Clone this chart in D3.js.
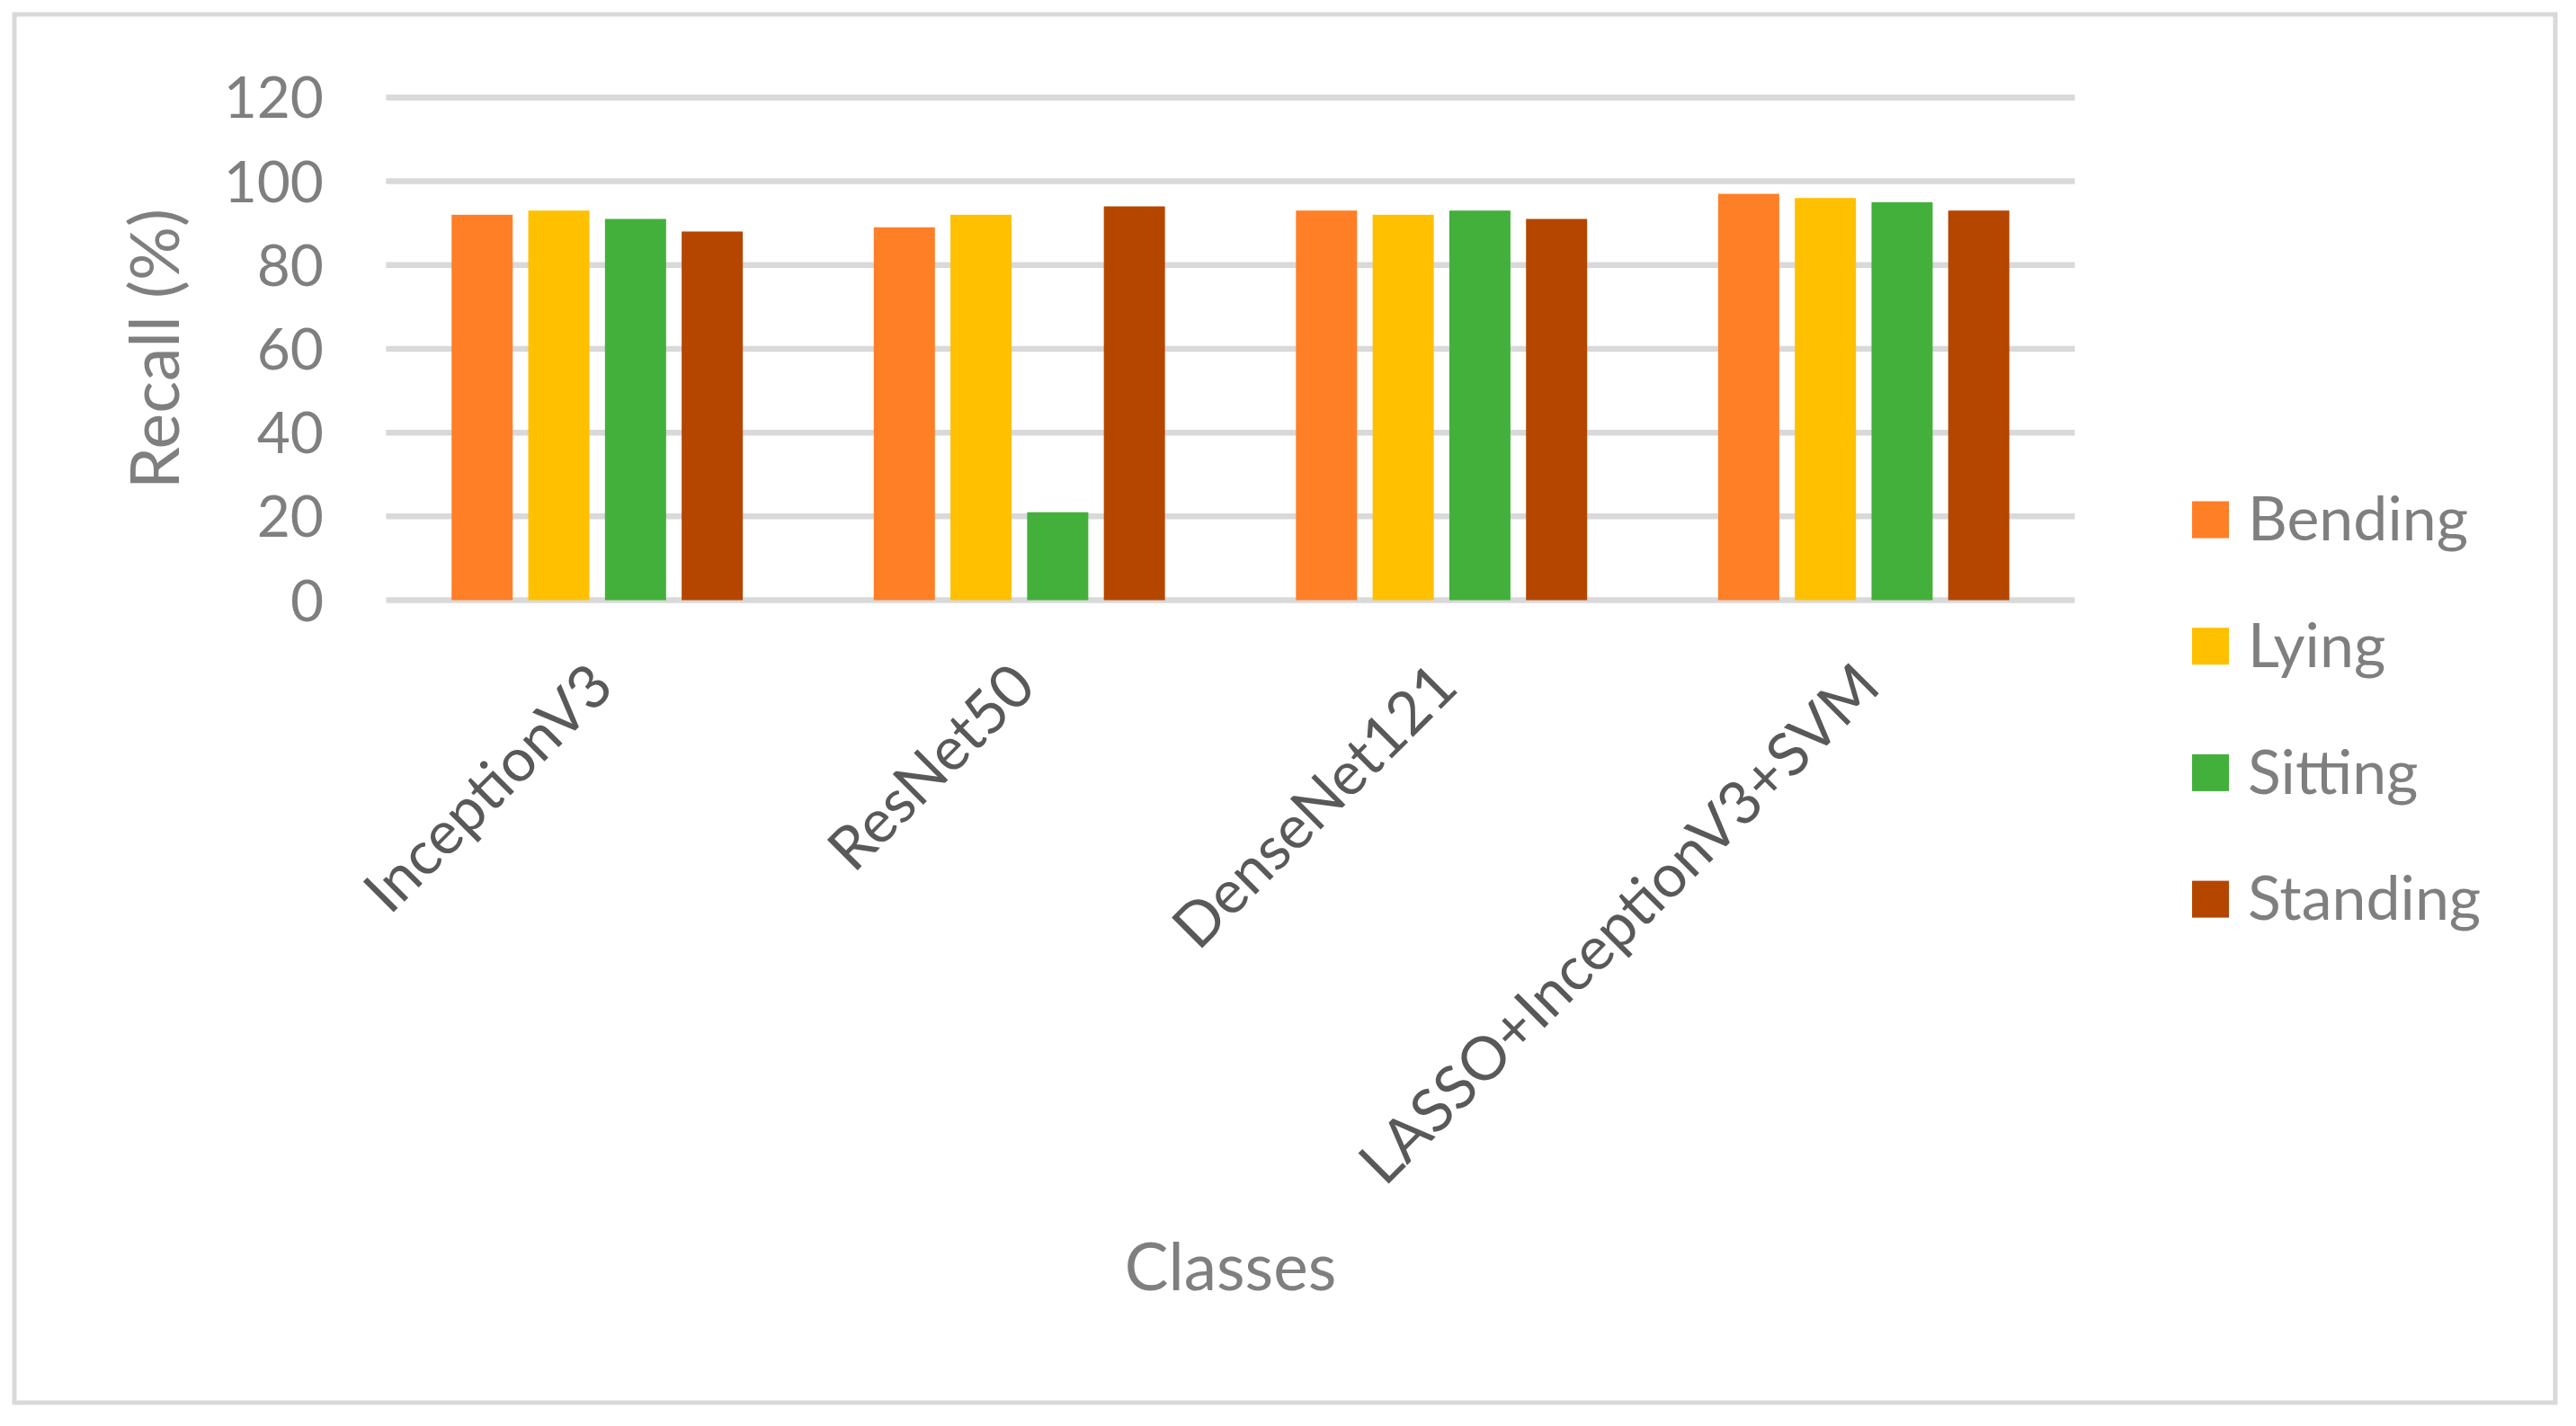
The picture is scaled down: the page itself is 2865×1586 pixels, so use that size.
<!DOCTYPE html>
<html>
<head>
<meta charset="utf-8">
<script src="https://cdn.jsdelivr.net/npm/d3@7"></script>
<style>
  body { margin: 0; background: #fff; }
</style>
</head>
<body>
<div class="chart-container"></div>
<script>
// data
const classes = ["InceptionV3", "ResNet50", "DenseNet121", "LASSO+InceptionV3+SVM"];
const series = ["Bending", "Lying", "Sitting", "Standing"];
const bending = [92, 89, 93, 97];
const lying = [93, 92, 92, 96];
const sitting = [91, 21, 93, 95];
const standing = [88, 94, 91, 93];
const yTicks = [0, 20, 40, 60, 80, 100, 120];
const colors = ["#ff7f27", "#ffc000", "#43b03b", "#b54600"];

const values = [bending, lying, sitting, standing];
const data = classes.map((c, i) => ({
  name: c,
  vals: series.map((s, j) => ({ series: s, value: values[j][i] }))
}));

const width = 2865, height = 1586;
const fontFamily = "Lato, 'Open Sans', sans-serif";

const svg = d3.select(".chart-container")
  .append("svg")
  .attr("width", width)
  .attr("height", height)
  .style("display", "block");

// outer chart border
svg.append("rect")
  .attr("x", 16)
  .attr("y", 16)
  .attr("width", 2826)
  .attr("height", 1544)
  .attr("fill", "white")
  .attr("stroke", "#d9d9d9")
  .attr("stroke-width", 5);

const x0 = d3.scaleBand()
  .domain(classes)
  .range([429.4, 2307.6])
  .padding(0);

const x1 = d3.scaleBand()
  .domain(series)
  .range([0, x0.bandwidth()])
  .paddingInner(0.203)
  .paddingOuter(0.854);

const yScale = d3.scaleLinear()
  .domain([0, 120])
  .range([667.5, 108.4]);

const color = d3.scaleOrdinal()
  .domain(series)
  .range(colors);

// gridlines
svg.append("g")
  .selectAll("line")
  .data(yTicks)
  .join("line")
  .attr("x1", 429.4)
  .attr("x2", 2307.6)
  .attr("y1", d => yScale(d))
  .attr("y2", d => yScale(d))
  .attr("stroke", "#d9d9d9")
  .attr("stroke-width", 6.5);

// y tick labels
svg.append("g")
  .selectAll("text")
  .data(yTicks)
  .join("text")
  .text(d => d)
  .attr("x", 360)
  .attr("y", d => yScale(d))
  .attr("dy", "0.36em")
  .attr("text-anchor", "end")
  .style("font-family", fontFamily)
  .style("font-size", "64px")
  .style("fill", "#7f7f7f");

// bars
const groups = svg.append("g")
  .selectAll("g")
  .data(data)
  .join("g")
  .attr("transform", d => `translate(${x0(d.name)},0)`);

groups.selectAll("rect")
  .data(d => d.vals)
  .join("rect")
  .attr("x", d => x1(d.series))
  .attr("y", d => yScale(d.value))
  .attr("width", x1.bandwidth())
  .attr("height", d => yScale(0) - yScale(d.value))
  .attr("fill", d => color(d.series));

// category labels, rotated
svg.append("g")
  .selectAll("text")
  .data(classes)
  .join("text")
  .text(d => d)
  .attr("transform", d => `translate(${x0(d) + x0.bandwidth() / 2 + 4},750) rotate(-45)`)
  .attr("dy", "0.36em")
  .attr("text-anchor", "end")
  .style("font-family", fontFamily)
  .style("font-size", "67px")
  .style("fill", "#595959");

// axis titles
svg.append("text")
  .text("Recall (%)")
  .attr("transform", `translate(199,${(yScale(0) + yScale(120)) / 2}) rotate(-90)`)
  .attr("text-anchor", "middle")
  .style("font-family", fontFamily)
  .style("font-size", "75px")
  .style("fill", "#7f7f7f");

svg.append("text")
  .text("Classes")
  .attr("x", (429.4 + 2307.6) / 2)
  .attr("y", 1435)
  .attr("text-anchor", "middle")
  .style("font-family", fontFamily)
  .style("font-size", "73px")
  .style("fill", "#7f7f7f");

// legend
const legend = svg.append("g")
  .selectAll("g")
  .data(series)
  .join("g")
  .attr("transform", (d, i) => `translate(2438,${578 + i * 140.7})`);

legend.append("rect")
  .attr("x", 0)
  .attr("y", -20.5)
  .attr("width", 41)
  .attr("height", 41)
  .attr("fill", d => color(d));

legend.append("text")
  .text(d => d)
  .attr("x", 62)
  .attr("y", 0)
  .attr("dy", "0.34em")
  .style("font-family", fontFamily)
  .style("font-size", "68px")
  .style("fill", "#7f7f7f");
</script>
</body>
</html>
